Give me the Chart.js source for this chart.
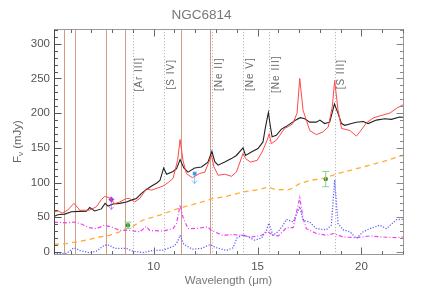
<!DOCTYPE html>
<html>
<head>
<meta charset="utf-8">
<script src="https://cdn.jsdelivr.net/npm/chart.js@4.4.1/dist/chart.umd.min.js"></script>
<style>
html, body { margin: 0; padding: 0; background: #fff; }
</style>
</head>
<body>
<canvas id="specChart" width="436" height="291"></canvas>
<script>
// spectra, [wavelength (um), flux (mJy)]
var blackSpec = [[5.2,51],[5.32,53],[5.45,54],[5.72,54.5],[6.04,58],[6.4,58.5],[6.76,58.6],[6.92,64],[7.16,59],[7.48,62],[7.66,70],[7.8,66],[8.04,69],[8.36,70],[8.69,72],
  [8.95,75],[9.17,77],[9.4,84],[9.65,90],[9.9,95],[10.13,99],[10.3,103],[10.48,121],[10.62,112],[10.93,116],[11.1,120],[11.27,133],[11.45,121],
  [11.65,115],[11.97,121],[12.3,122.5],[12.61,129.5],[12.8,145],[12.94,130],[13.1,125],[13.42,129.5],[13.74,134.5],[13.98,139],[14.3,150],
  [14.42,139],[14.7,144],[15.02,149],[15.26,158.5],[15.38,180],[15.52,201],[15.62,180],[15.7,166],[15.9,168],[16.15,177],[16.39,181],[16.63,186],
  [16.84,190],[17.05,193.5],[17.27,192],[17.51,187],[17.83,187],[18.0,190],[18.23,185],[18.47,187],[18.7,213],[18.87,200],[19.04,185],[19.2,182.5],
  [19.52,185],[19.76,187],[20.08,188],[20.32,185],[20.72,190],[21.12,192],[21.44,191],[21.84,194.5],[22,194]];

var redSpec = [[5.2,57.5],[5.4,59],[5.6,56],[5.85,60],[6.16,70],[6.45,60],[6.9,60],[7.24,65],[7.48,75.5],[7.64,80],[7.88,78],[8.12,69.5],[8.36,72],
  [8.69,77],[8.84,77],[9.08,72],[9.33,77],[9.65,91],[9.89,89],[10.45,95],[10.7,100],[10.93,106],[11.15,132],[11.27,162],[11.41,132],[11.57,113],
  [11.86,107],[12.2,113],[12.46,115],[12.78,139],[12.9,122.5],[13.1,110.5],[13.42,112],[13.74,109],[13.98,115],[14.3,142],[14.42,134.5],
  [14.66,129.5],[14.98,132],[15.22,144],[15.46,161],[15.56,170.5],[15.66,156],[15.9,161],[16.07,168],[16.3,178],[16.5,181],[16.7,185],
  [16.9,200],[17.03,250],[17.19,204],[17.51,175],[17.83,169],[18.15,173],[18.4,180],[18.6,210],[18.71,247],[18.87,205],[19.04,178],
  [19.44,175],[19.76,167],[19.92,173],[20.24,186],[20.56,193],[20.88,196],[21.36,200],[21.69,207],[22,212]];

var contModel = [[5.2,11],[5.8,12],[6.76,17],[7.4,21.5],[7.88,24],[8.36,29],[9.0,37],[9.48,46],[10.29,53],[10.93,60],[11.57,66],[12.21,71],
  [12.86,77],[13.5,80],[14.3,86.5],[15.1,90],[15.5,93.5],[15.9,89.5],[16.55,90],[17.03,98.5],[17.51,103],[18.15,106],[18.63,110.5],
  [19.11,115],[19.76,120],[20.4,125],[21.04,130],[21.84,138],[22,139]];

var magentaSpec = [[5.2,43],[5.8,42],[6.16,43],[6.45,41],[6.9,35],[7.24,33.5],[7.64,38.5],[7.96,36],[8.36,31],[8.84,31],[9.33,29],[9.65,37],
  [9.8,31],[10.45,30],[10.93,33.5],[11.1,41],[11.27,68],[11.41,50],[11.65,33.5],[12.1,34],[12.6,36],[12.78,31],[13.3,24],[13.74,25],
  [14.22,24],[14.7,21.5],[15.19,24],[15.5,29],[15.74,24],[16.0,23],[16.39,35],[16.71,35],[17.03,78],[17.19,48],[17.35,33.5],[17.83,26.5],
  [18.31,24],[18.68,26.5],[19.11,21.5],[19.76,20.5],[20.4,23],[21.04,21.5],[21.69,20.5],[22,21.5]];

var blueSpec = [[5.2,-2],[5.8,-2],[6.16,6],[6.45,2],[6.9,-1],[7.24,1],[7.64,10],[7.88,9.5],[8.12,5],[8.69,5],[9.0,1],[9.48,-1],[9.96,2],
  [10.45,2.5],[10.93,8],[11.1,12],[11.27,24],[11.45,11],[11.86,4],[12.3,5],[12.7,10.5],[13.02,6],[13.5,2],[13.82,6],[14.0,20],[14.3,25],
  [14.54,21.5],[14.86,17],[15.19,20],[15.43,31],[15.54,41.5],[15.74,24],[15.98,29],[16.23,38.5],[16.39,47],[16.71,43],[17.03,65],[17.19,45.5],
  [17.51,43],[17.83,33.5],[18.31,32],[18.55,38.5],[18.71,104],[18.87,41],[19.11,32],[19.44,29],[19.76,19.5],[20.08,29],[20.4,33.5],
  [20.88,38.5],[21.2,33.5],[21.69,46.5],[22,47]];

// photometry
var photWave = [7.96, 8.76, 11.97, 18.28];
var photFlux = [75.5, 38.5, 113, 105];
var photErr = [0, 4.5, 0, 11];
var photLimit = [true, false, true, false];
var photColor = ['#9b3df0', '#2a8a2a', '#3a9cf5', '#2a8a2a'];

// feature positions
var pahLines = [5.7, 6.2, 7.7, 8.6, 11.3, 12.7];
var ionWave = [8.99, 10.51, 12.81, 14.32, 15.56, 18.71];
var ionNames = ['[Ar III]', '[S IV]', '[Ne II]', '[Ne V]', '[Ne III]', '[S III]'];

var xTickVals = [10, 15, 20];
var yTickVals = [0, 50, 100, 150, 200, 250, 300];

var FONT = 'Liberation Sans, Arial, sans-serif';

var decor = {
  id: 'decor',
  beforeDatasetsDraw: function(chart) {
    var ctx = chart.ctx, ca = chart.chartArea, xs = chart.scales.x;
    ctx.save();
    ctx.lineWidth = 1;
    // PAH features
    ctx.strokeStyle = '#cf9c86';
    for (var i = 0; i < pahLines.length; i++) {
      var px = Math.round(xs.getPixelForValue(pahLines[i])) + 0.5;
      ctx.beginPath(); ctx.moveTo(px, ca.top); ctx.lineTo(px, ca.bottom); ctx.stroke();
    }
    // ionic lines
    ctx.strokeStyle = '#aaaaaa';
    ctx.setLineDash([1, 2]);
    for (i = 0; i < ionWave.length; i++) {
      px = Math.round(xs.getPixelForValue(ionWave[i])) + 0.5;
      ctx.beginPath(); ctx.moveTo(px, ca.top); ctx.lineTo(px, ca.bottom); ctx.stroke();
    }
    ctx.setLineDash([]);
    ctx.fillStyle = '#6a6a6a';
    ctx.font = '10px ' + FONT;
    ctx.letterSpacing = '1px';
    ctx.textAlign = 'center';
    ctx.textBaseline = 'middle';
    for (i = 0; i < ionWave.length; i++) {
      px = xs.getPixelForValue(ionWave[i]) + 7;
      ctx.save();
      ctx.translate(px, ca.top + 45);
      ctx.rotate(-Math.PI / 2);
      ctx.fillText(ionNames[i], 0, 0);
      ctx.restore();
    }
    ctx.restore();
  },
  afterDatasetsDraw: function(chart) {
    var ctx = chart.ctx, ca = chart.chartArea, xs = chart.scales.x, ys = chart.scales.y;
    ctx.save();
    // photometry bars and limits
    for (var i = 0; i < photWave.length; i++) {
      var px = xs.getPixelForValue(photWave[i]);
      var py = ys.getPixelForValue(photFlux[i]);
      if (photLimit[i]) {
        ctx.strokeStyle = photColor[i];
        ctx.globalAlpha = 0.6;
        ctx.lineWidth = 1;
        ctx.beginPath(); ctx.moveTo(px, py); ctx.lineTo(px, py + 10);
        ctx.moveTo(px - 2.5, py + 7); ctx.lineTo(px, py + 10); ctx.lineTo(px + 2.5, py + 7);
        ctx.stroke();
        ctx.globalAlpha = 1;
      } else {
        var pt = ys.getPixelForValue(photFlux[i] + photErr[i]);
        var pb = ys.getPixelForValue(photFlux[i] - photErr[i]);
        ctx.strokeStyle = '#8fcf8f';
        ctx.lineWidth = 1;
        ctx.beginPath();
        ctx.moveTo(px, pt); ctx.lineTo(px, pb);
        ctx.moveTo(px - 3.5, pt); ctx.lineTo(px + 3.5, pt);
        ctx.moveTo(px - 3.5, pb); ctx.lineTo(px + 3.5, pb);
        ctx.stroke();
      }
    }
    // frame
    ctx.lineWidth = 1;
    ctx.strokeStyle = '#9a9a9a';
    var L = Math.round(ca.left) + 0.5, R = Math.round(ca.right) + 0.5, T = Math.round(ca.top) + 0.5, B = Math.round(ca.bottom) + 0.5;
    ctx.beginPath(); ctx.moveTo(L, T); ctx.lineTo(R, T); ctx.lineTo(R, B); ctx.lineTo(L, B); ctx.stroke();
    ctx.strokeStyle = '#444';
    ctx.beginPath(); ctx.moveTo(L, T); ctx.lineTo(L, B); ctx.stroke();
    // inward ticks
    ctx.strokeStyle = '#666';
    for (var v = 6; v <= 22; v++) {
      var len = xTickVals.indexOf(v) >= 0 ? 7 : 3.5;
      px = Math.round(xs.getPixelForValue(v)) + 0.5;
      ctx.beginPath();
      ctx.moveTo(px, B); ctx.lineTo(px, B - len);
      ctx.moveTo(px, T); ctx.lineTo(px, T + len);
      ctx.stroke();
    }
    for (v = 0; v <= 320; v += 10) {
      len = v % 50 === 0 ? 7 : 3.5;
      py = Math.round(ys.getPixelForValue(v)) + 0.5;
      ctx.strokeStyle = '#555';
      ctx.beginPath(); ctx.moveTo(L, py); ctx.lineTo(L + len, py); ctx.stroke();
      ctx.strokeStyle = '#888';
      ctx.beginPath(); ctx.moveTo(R, py); ctx.lineTo(R - len, py); ctx.stroke();
    }
    // y title with subscript nu
    ctx.fillStyle = '#666';
    ctx.translate(18, (ca.top + ca.bottom) / 2);
    ctx.rotate(-Math.PI / 2);
    ctx.textBaseline = 'middle';
    ctx.textAlign = 'left';
    ctx.font = '11.5px ' + FONT;
    var w1 = ctx.measureText('F').width;
    var w3 = ctx.measureText(' (mJy)').width;
    ctx.font = '8px ' + FONT;
    var w2 = ctx.measureText('\u03bd').width;
    var x0 = -(w1 + w2 + w3) / 2;
    ctx.font = '11.5px ' + FONT;
    ctx.fillText('F', x0, 0);
    ctx.font = '8px ' + FONT;
    ctx.fillText('\u03bd', x0 + w1, 3);
    ctx.font = '11.5px ' + FONT;
    ctx.fillText(' (mJy)', x0 + w1 + w2, 0);
    ctx.restore();
  }
};

var ctxSpec = document.getElementById('specChart').getContext('2d');

var specChart = new Chart(ctxSpec, {
  type: 'line',
  data: {
    datasets: [
      { data: blueSpec, borderColor: 'rgba(80,80,255,0.9)', borderWidth: 1.3, borderDash: [1.2, 1.6] },
      { data: magentaSpec, borderColor: '#f040f0', borderWidth: 1.2, borderDash: [4, 2, 1, 2] },
      { data: contModel, borderColor: '#ffad33', borderWidth: 1.3, borderDash: [5, 4] },
      { data: redSpec, borderColor: '#ff4a4a', borderWidth: 1 },
      { data: blackSpec, borderColor: '#222', borderWidth: 1.1 },
      {
        type: 'scatter',
        data: photWave.map(function(w, i) { return { x: w, y: photFlux[i] }; }),
        pointStyle: ['rectRot', 'circle', 'rect', 'circle'],
        pointRadius: [3, 2.2, 2.6, 2.2],
        pointBackgroundColor: photColor,
        pointBorderColor: photColor,
        pointBorderWidth: 0
      }
    ]
  },
  options: {
    responsive: false,
    animation: false,
    events: [],
    elements: { point: { radius: 0 }, line: { tension: 0, fill: false } },
    layout: { padding: { left: 0, right: 33, top: 0, bottom: 0 } },
    plugins: {
      legend: { display: false },
      tooltip: { enabled: false },
      title: {
        display: true,
        text: 'NGC6814',
        color: '#777',
        font: { family: FONT, size: 13.5, weight: 'normal' },
        padding: { top: 7, bottom: 6 }
      }
    },
    scales: {
      x: {
        type: 'linear',
        min: 5.2,
        max: 22,
        afterBuildTicks: function(s) { s.ticks = xTickVals.map(function(v) { return { value: v }; }); },
        afterFit: function(s) { s.height = 37; },
        grid: { display: false, drawTicks: false },
        border: { display: false },
        ticks: { color: '#555', font: { family: FONT, size: 11.5 }, padding: 6, maxRotation: 0, autoSkip: false },
        title: { display: true, text: 'Wavelength (\u03bcm)', color: '#777', font: { family: FONT, size: 11.5 }, padding: { top: 0, bottom: 3 } }
      },
      y: {
        min: -3,
        max: 321,
        afterBuildTicks: function(s) { s.ticks = yTickVals.map(function(v) { return { value: v }; }); },
        afterFit: function(s) { s.width = 54; },
        grid: { display: false, drawTicks: false },
        border: { display: false },
        ticks: { color: '#555', font: { family: FONT, size: 11.5 }, padding: 4 }
      }
    }
  },
  plugins: [decor]
});
</script>
</body>
</html>
